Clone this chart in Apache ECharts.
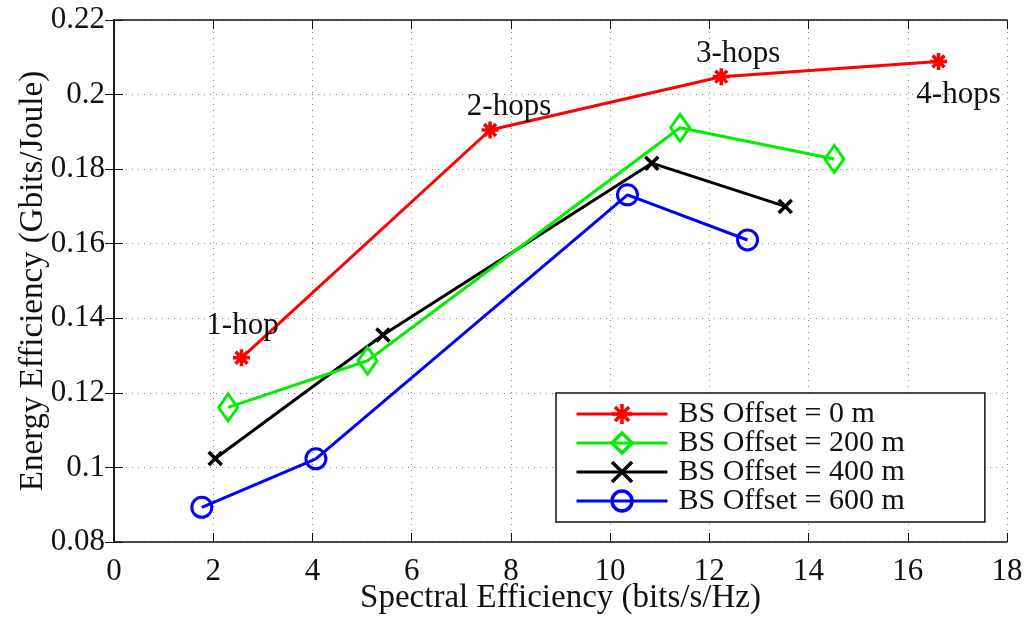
<!DOCTYPE html>
<html>
<head>
<meta charset="utf-8">
<script src="https://cdn.jsdelivr.net/npm/echarts@6/dist/echarts.min.js"></script>
<style>
  html, body { margin: 0; padding: 0; background: #fff; }
  #chart { width: 1028px; height: 617px; }
</style>
</head>
<body>
<div id="chart"></div>
<script>
// Spectral efficiency (bits/s/Hz) and energy efficiency (Gbits/Joule) per BS offset
const offset0X = [2.57, 7.58, 12.24, 16.62];
const offset0Y = [0.1294, 0.1905, 0.2048, 0.2089];
const hopLabels = ['1-hop', '2-hops', '3-hops', '4-hops'];

const offset200X = [2.30, 5.11, 11.41, 14.52];
const offset200Y = [0.1161, 0.1286, 0.1911, 0.1827];

const offset400X = [2.04, 5.42, 10.84, 13.53];
const offset400Y = [0.1024, 0.1355, 0.1816, 0.1700];

const offset600X = [1.77, 4.07, 10.35, 12.77];
const offset600Y = [0.0893, 0.1023, 0.1731, 0.1610];

const seriesNames = ['BS Offset = 0 m', 'BS Offset = 200 m', 'BS Offset = 400 m', 'BS Offset = 600 m'];
const xName = 'Spectral Efficiency (bits/s/Hz)';
const yName = 'Energy Efficiency (Gbits/Joule)';

const FONT = 'Liberation Serif';
const asteriskPath = 'path://M0,-1L0,1M-1,0L1,0M-0.7,-0.7L0.7,0.7M-0.7,0.7L0.7,-0.7';
const crossPath = 'path://M-1,-1L1,1M-1,1L1,-1';

const zip = (xs, ys) => xs.map((x, i) => [x, ys[i]]);

// label placement around each hop marker
const hopOffsets = [[1, -32], [19, -23], [17, -23], [20, 33]];
const redData = zip(offset0X, offset0Y).map((p, i) => ({
  value: p,
  label: {
    show: true,
    formatter: hopLabels[i],
    position: 'inside',
    offset: hopOffsets[i],
    fontFamily: FONT,
    fontSize: 31,
    color: '#111'
  }
}));

const gridLine = { show: true, lineStyle: { color: '#888', width: 1, type: [1, 5] } };
const axisLineStyle = { show: true, lineStyle: { color: '#111', width: 1.5 } };
const tickIn = { show: true, inside: true, length: 9, lineStyle: { color: '#111', width: 1 } };

function lineSeries(name, data, color, symbol, size, extra) {
  return Object.assign({
    name: name,
    type: 'line',
    data: data,
    symbol: symbol,
    symbolSize: size,
    showAllSymbol: true,
    lineStyle: { color: color, width: 3 },
    itemStyle: { color: 'rgba(0,0,0,0)', borderColor: color, borderWidth: 3 },
    emphasis: { disabled: true },
    z: 3
  }, extra || {});
}

const chart = echarts.init(document.getElementById('chart'), null, { renderer: 'canvas' });
chart.setOption({
  animation: false,
  backgroundColor: '#fff',
  textStyle: { fontFamily: FONT },
  grid: { left: 114, right: 21, top: 20, bottom: 75, containLabel: false, outerBoundsMode: 'none' },
  xAxis: [
    {
      type: 'value', min: 0, max: 18, interval: 2,
      name: xName, nameLocation: 'middle', nameGap: 40, nameMoveOverlap: false,
      nameTextStyle: { fontFamily: FONT, fontSize: 33, color: '#111' },
      axisLine: axisLineStyle, axisTick: tickIn, splitLine: gridLine,
      axisLabel: { fontFamily: FONT, fontSize: 31, color: '#111', margin: 14 }
    },
    {
      type: 'value', position: 'top', min: 0, max: 18, interval: 2,
      axisLine: axisLineStyle, axisTick: tickIn, splitLine: { show: false },
      axisLabel: { show: false }
    }
  ],
  yAxis: [
    {
      type: 'value', min: 0.08, max: 0.22, interval: 0.02,
      name: yName, nameLocation: 'middle', nameGap: 64, nameMoveOverlap: false,
      nameTextStyle: { fontFamily: FONT, fontSize: 33, color: '#111' },
      axisLine: axisLineStyle, axisTick: tickIn, splitLine: gridLine,
      axisLabel: {
        fontFamily: FONT, fontSize: 31, color: '#111', margin: 9,
        formatter: v => String(+v.toFixed(2))
      }
    },
    {
      type: 'value', position: 'right', min: 0.08, max: 0.22, interval: 0.02,
      axisLine: axisLineStyle, axisTick: tickIn, splitLine: { show: false },
      axisLabel: { show: false }
    }
  ],
  legend: {
    orient: 'vertical',
    left: 556, top: 393,
    data: seriesNames,
    backgroundColor: '#fff',
    borderColor: '#111',
    borderWidth: 1.5,
    borderRadius: 0,
    padding: [6, 80, 6, 19],
    itemWidth: 91,
    itemHeight: 25,
    itemGap: -1,
    selectedMode: false,
    lineStyle: { width: 3 },
    itemStyle: { borderWidth: 3.5 },
    textStyle: { fontFamily: FONT, fontSize: 30, color: '#111', lineHeight: 25, padding: [0, 0, 0, 6] }
  },
  series: [
    lineSeries(seriesNames[0], redData, '#ff0000', asteriskPath, 17,
      { itemStyle: { color: '#ff0000', borderColor: '#ff0000', borderWidth: 3.5 }, z: 6 }),
    lineSeries(seriesNames[1], zip(offset200X, offset200Y), '#00ee00', 'diamond', [19, 27], { z: 5 }),
    lineSeries(seriesNames[2], zip(offset400X, offset400Y), '#000000', crossPath, 13,
      { itemStyle: { color: '#000', borderColor: '#000', borderWidth: 3.5 }, z: 4 }),
    lineSeries(seriesNames[3], zip(offset600X, offset600Y), '#0000ff', 'circle', 20, { z: 3 })
  ]
});
</script>
</body>
</html>
